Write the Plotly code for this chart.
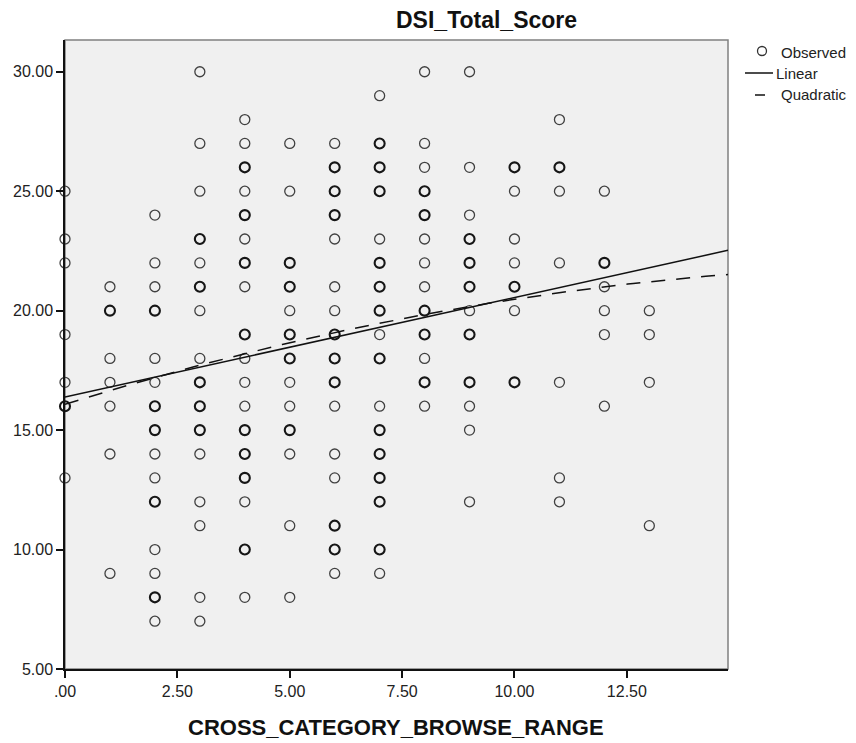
import numpy as np
import plotly.graph_objects as go

# Observed cases: browse range (x), DSI total score (y), number of cases at that spot
browse_range = (
    [0] * 7 + [1] * 7 + [2] * 15 + [3] * 16 + [4] * 18 + [5] * 13 + [6] * 16
    + [7] * 17 + [8] * 13 + [9] * 12 + [10] * 7 + [11] * 7 + [12] * 6 + [13] * 4
)
dsi_score = (
    [25, 23, 22, 19, 17, 16, 13]
    + [21, 20, 18, 17, 16, 14, 9]
    + [24, 22, 21, 20, 18, 17, 16, 15, 14, 13, 12, 10, 9, 8, 7]
    + [30, 27, 25, 23, 22, 21, 20, 18, 17, 16, 15, 14, 12, 11, 8, 7]
    + [28, 27, 26, 25, 24, 23, 22, 21, 19, 18, 17, 16, 15, 14, 13, 12, 10, 8]
    + [27, 25, 22, 21, 20, 19, 18, 17, 16, 15, 14, 11, 8]
    + [27, 26, 25, 24, 23, 21, 20, 19, 18, 17, 16, 14, 13, 11, 10, 9]
    + [29, 27, 26, 25, 23, 22, 21, 20, 19, 18, 16, 15, 14, 13, 12, 10, 9]
    + [30, 27, 26, 25, 24, 23, 22, 21, 20, 19, 18, 17, 16]
    + [30, 26, 24, 23, 22, 21, 20, 19, 17, 16, 15, 12]
    + [26, 25, 23, 22, 21, 20, 17]
    + [28, 26, 25, 22, 17, 13, 12]
    + [25, 22, 21, 20, 19, 16]
    + [20, 19, 17, 11]
)
case_count = (
    [1, 1, 1, 1, 1, 2, 1]
    + [1, 2, 1, 1, 1, 1, 1]
    + [1, 1, 1, 2, 1, 1, 2, 2, 1, 1, 2, 1, 1, 2, 1]
    + [1, 1, 1, 2, 1, 2, 1, 1, 2, 2, 2, 1, 1, 1, 1, 1]
    + [1, 1, 2, 1, 2, 1, 2, 1, 2, 1, 1, 1, 2, 2, 2, 1, 2, 1]
    + [1, 1, 2, 2, 1, 2, 2, 1, 1, 2, 1, 1, 1]
    + [1, 2, 2, 2, 1, 1, 1, 2, 2, 2, 1, 1, 1, 2, 2, 1]
    + [1, 2, 2, 2, 1, 2, 2, 2, 1, 2, 1, 2, 2, 2, 2, 2, 1]
    + [1, 1, 1, 2, 2, 1, 1, 1, 2, 2, 1, 2, 1]
    + [1, 1, 1, 2, 2, 2, 1, 2, 2, 1, 1, 1]
    + [2, 1, 1, 1, 2, 1, 2]
    + [1, 2, 1, 1, 1, 1, 1]
    + [1, 2, 1, 1, 1, 1]
    + [1, 1, 1, 1]
)

# Curve-fit model coefficients
linear_coef = [16.39, 0.416]
quadratic_coef = [16.08, 0.591, -0.0151]

x_ticks = [0, 2.5, 5, 7.5, 10, 12.5]
x_tick_labels = [".00", "2.50", "5.00", "7.50", "10.00", "12.50"]
y_ticks = [5, 10, 15, 20, 25, 30]
y_tick_labels = ["5.00", "10.00", "15.00", "20.00", "25.00", "30.00"]

X_RANGE = [0, 14.75]
Y_RANGE = [5, 31.33]

W, H = 856, 743
ML, MR, MT, MB = 65, 128, 40, 74
PW, PH = W - ML - MR, H - MT - MB
FONT = "Liberation Sans, Arial, sans-serif"


def px_x(px):
    return (px - ML) / PW


def px_y(py):
    return (H - MB - py) / PH


fig = go.Figure()

# fitted curves
xf = np.linspace(X_RANGE[0], X_RANGE[1], 120)
y_lin = linear_coef[0] + linear_coef[1] * xf
y_quad = quadratic_coef[0] + quadratic_coef[1] * xf + quadratic_coef[2] * xf ** 2

fig.add_trace(go.Scatter(
    x=browse_range, y=dsi_score, mode="markers", name="Observed",
    marker=dict(
        symbol="circle-open", size=10,
        color=["#404040" if n == 1 else "#161616" for n in case_count],
        line=dict(width=[1.3 if n == 1 else 2.1 for n in case_count]),
    ),
    cliponaxis=False, hoverinfo="x+y",
))
fig.add_trace(go.Scatter(
    x=xf, y=y_lin, mode="lines", name="Linear",
    line=dict(color="#111111", width=1.5),
))
fig.add_trace(go.Scatter(
    x=xf, y=y_quad, mode="lines", name="Quadratic",
    line=dict(color="#111111", width=1.5, dash="14px,11px"),
))

shapes = [
    # frame around the plotting region
    dict(type="rect", xref="paper", yref="paper", x0=0, x1=1, y0=0, y1=1,
         line=dict(color="#808080", width=1.5), layer="below"),
    # legend symbols
    dict(type="circle", xref="paper", yref="paper",
         x0=px_x(757.5), x1=px_x(766.5), y0=px_y(55.5), y1=px_y(46.5),
         line=dict(color="#333333", width=1.3)),
    dict(type="line", xref="paper", yref="paper",
         x0=px_x(745), x1=px_x(773), y0=px_y(73), y1=px_y(73),
         line=dict(color="#111111", width=1.5)),
    dict(type="line", xref="paper", yref="paper",
         x0=px_x(755), x1=px_x(765), y0=px_y(95), y1=px_y(95),
         line=dict(color="#111111", width=1.5)),
]

annotations = [
    dict(text="<b>DSI_Total_Score</b>", xref="paper", yref="paper",
         x=px_x(486), y=px_y(20), xanchor="center", yanchor="middle",
         showarrow=False, font=dict(family=FONT, size=23, color="#111111")),
    dict(text="<b>CROSS_CATEGORY_BROWSE_RANGE</b>", xref="paper", yref="paper",
         x=px_x(396), y=px_y(727), xanchor="center", yanchor="middle",
         showarrow=False, font=dict(family=FONT, size=22, color="#111111")),
    dict(text="Observed", xref="paper", yref="paper", x=px_x(779), y=px_y(52),
         xanchor="left", yanchor="middle", showarrow=False,
         font=dict(family=FONT, size=15, color="#222222")),
    dict(text="Linear", xref="paper", yref="paper", x=px_x(774), y=px_y(73),
         xanchor="left", yanchor="middle", showarrow=False,
         font=dict(family=FONT, size=15, color="#222222")),
    dict(text="Quadratic", xref="paper", yref="paper", x=px_x(779), y=px_y(95),
         xanchor="left", yanchor="middle", showarrow=False,
         font=dict(family=FONT, size=15, color="#222222")),
]

axis_common = dict(
    showgrid=False, zeroline=False, showline=True, linecolor="#111111",
    linewidth=1.5, ticks="outside", ticklen=7, tickwidth=1.5,
    tickcolor="#111111", tickfont=dict(family=FONT, size=16, color="#222222"),
)

fig.update_layout(
    width=W, height=H, autosize=False,
    margin=dict(l=ML, r=MR, t=MT, b=MB),
    paper_bgcolor="white", plot_bgcolor="#f0f0f0",
    showlegend=False,
    xaxis=dict(range=X_RANGE, tickvals=x_ticks, ticktext=x_tick_labels, **axis_common),
    yaxis=dict(range=Y_RANGE, tickvals=y_ticks, ticktext=y_tick_labels, **axis_common),
    shapes=shapes, annotations=annotations,
)

fig.write_html("out.html")
